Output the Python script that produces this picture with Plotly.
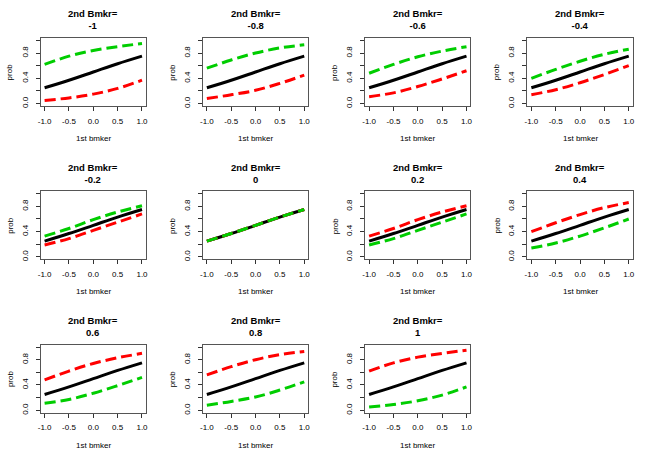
import plotly.graph_objects as go

# ---- data ----
x_bmker1 = [-1.0, -0.5, 0.0, 0.5, 1.0]
panel_titles = ["-1", "-0.8", "-0.6", "-0.4", "-0.2", "0", "0.2", "0.4", "0.6", "0.8", "1"]
prob_black = [0.25, 0.37, 0.50, 0.63, 0.75]
prob_red = [
    [0.05, 0.09, 0.15, 0.24, 0.37],
    [0.08, 0.14, 0.21, 0.32, 0.45],
    [0.11, 0.17, 0.27, 0.39, 0.52],
    [0.14, 0.22, 0.33, 0.46, 0.60],
    [0.19, 0.29, 0.42, 0.55, 0.68],
    [0.25, 0.37, 0.50, 0.63, 0.75],
    [0.33, 0.45, 0.59, 0.71, 0.81],
    [0.40, 0.54, 0.67, 0.78, 0.86],
    [0.48, 0.62, 0.74, 0.83, 0.90],
    [0.56, 0.69, 0.80, 0.88, 0.93],
    [0.62, 0.75, 0.84, 0.90, 0.95],
]
prob_green = [
    [0.62, 0.75, 0.84, 0.90, 0.95],
    [0.56, 0.69, 0.80, 0.88, 0.93],
    [0.48, 0.62, 0.74, 0.83, 0.90],
    [0.40, 0.54, 0.67, 0.78, 0.86],
    [0.33, 0.45, 0.59, 0.71, 0.81],
    [0.25, 0.37, 0.50, 0.63, 0.75],
    [0.19, 0.29, 0.42, 0.55, 0.68],
    [0.14, 0.22, 0.33, 0.46, 0.60],
    [0.11, 0.17, 0.27, 0.39, 0.52],
    [0.08, 0.14, 0.21, 0.32, 0.45],
    [0.05, 0.09, 0.15, 0.24, 0.37],
]
x_tickvals = [-1.0, -0.5, 0.0, 0.5, 1.0]
x_ticktext = ["-1.0", "-0.5", "0.0", "0.5", "1.0"]
y_tickvals = [0.0, 0.2, 0.4, 0.6, 0.8, 1.0]
y_ticktext = ["0.0", "", "0.4", "", "0.8", ""]

W, H = 654, 462
CELL_W, CELL_H = W / 4, H / 3
PL, PW = 38, 106          # plot-box left offset and width inside a cell
PT, PH = 38, 68.6         # plot-box top offset and height inside a cell
FONT = "Liberation Sans, Arial, Helvetica, sans-serif"

fig = go.Figure()
annotations = []
for i, title in enumerate(panel_titles):
    r, c = divmod(i, 4)
    k = i + 1
    xa = "x" if k == 1 else f"x{k}"
    ya = "y" if k == 1 else f"y{k}"
    left = c * CELL_W + PL
    top = r * CELL_H + PT
    xdom = [left / W, (left + PW) / W]
    ydom = [1 - (top + PH) / H, 1 - top / H]

    fig.add_trace(go.Scatter(x=x_bmker1, y=prob_black, mode="lines", xaxis=xa, yaxis=ya,
                             line=dict(color="black", width=3, shape="spline"), showlegend=False))
    fig.add_trace(go.Scatter(x=x_bmker1, y=prob_red[i], mode="lines", xaxis=xa, yaxis=ya,
                             line=dict(color="#ff0000", width=3, dash="11px,5px", shape="spline"),
                             showlegend=False))
    fig.add_trace(go.Scatter(x=x_bmker1, y=prob_green[i], mode="lines", xaxis=xa, yaxis=ya,
                             line=dict(color="#00cd00", width=3, dash="11px,5px", shape="spline"),
                             showlegend=False))

    axcommon = dict(showgrid=False, zeroline=False, showline=True, mirror=True,
                    linecolor="#555555", linewidth=1, ticks="outside", ticklen=4,
                    tickcolor="#333333", tickwidth=1,
                    tickfont=dict(family=FONT, size=8, color="black"))
    fig.layout[xa.replace("x", "xaxis")] = dict(
        domain=xdom, range=[-1.08, 1.08], anchor=ya,
        tickmode="array", tickvals=x_tickvals, ticktext=x_ticktext,
        ticklabelstandoff=3, **axcommon)
    fig.layout[ya.replace("y", "yaxis")] = dict(
        domain=ydom, range=[-0.04, 1.04], anchor=xa,
        tickmode="array", tickvals=y_tickvals, ticktext=y_ticktext,
        tickangle=-90, ticklabelstandoff=5, **axcommon)

    cx = (left + PW / 2) / W
    annotations.append(dict(text=f"<b>2nd Bmkr=<br>{title}</b>", x=cx,
                            y=1 - (r * CELL_H + 20) / H,
                            xref="paper", yref="paper", showarrow=False, xanchor="center",
                            yanchor="middle", font=dict(family=FONT, size=9.5, color="black")))
    annotations.append(dict(text="1st bmker", x=cx, y=1 - (r * CELL_H + 139) / H,
                            xref="paper", yref="paper", showarrow=False, xanchor="center",
                            yanchor="middle", font=dict(family=FONT, size=8, color="black")))
    annotations.append(dict(text="prob", x=(c * CELL_W + 7.5) / W, y=1 - (top + PH / 2) / H,
                            xref="paper", yref="paper", showarrow=False, xanchor="center",
                            yanchor="middle", textangle=-90,
                            font=dict(family=FONT, size=8, color="black")))

fig.update_layout(width=W, height=H, margin=dict(l=0, r=0, t=0, b=0),
                  paper_bgcolor="white", plot_bgcolor="white",
                  annotations=annotations, showlegend=False)

fig.write_html("out.html", config={"displayModeBar": False},
               post_script="document.body.style.margin='0';")
